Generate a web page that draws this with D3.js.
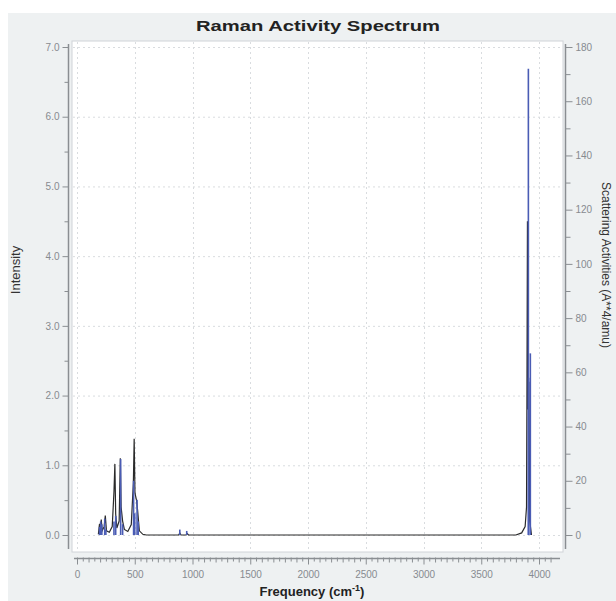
<!DOCTYPE html>
<html>
<head>
<meta charset="utf-8">
<script src="https://cdn.jsdelivr.net/npm/d3@7"></script>
<style>
  body { margin: 0; background: #ffffff; }
  svg { display: block; font-family: "Liberation Sans", Arial, sans-serif; }
</style>
</head>
<body>
<div id="chart"></div>
<script>
// Chart size
const w = 616;
const h = 601;

// Axis ticks
const xTicks = [0, 500, 1000, 1500, 2000, 2500, 3000, 3500, 4000];
const leftTicks = [0, 1, 2, 3, 4, 5, 6, 7];
const rightTicks = [0, 20, 40, 60, 80, 100, 120, 140, 160, 180];

// Broadened spectrum (frequency, intensity)
const lineFreq = [185, 195, 200, 210, 218, 235, 245, 255, 280, 305, 320, 328, 335, 345, 365, 375, 382, 395, 410, 440, 470, 488, 495, 502, 515, 525, 540, 570, 600, 880, 890, 900, 945, 955, 965, 3800, 3850, 3880, 3892, 3896, 3900, 3904, 3912, 3920, 3935];
const lineInt  = [0.01, 0.16, 0.04, 0.22, 0.06, 0.12, 0.28, 0.06, 0.04, 0.12, 0.62, 1.02, 0.3, 0.1, 0.2, 1.1, 0.4, 0.2, 0.08, 0.05, 0.15, 0.75, 1.38, 0.6, 0.5, 0.35, 0.06, 0.01, 0, 0, 0.03, 0, 0, 0.02, 0, 0, 0.03, 0.12, 0.4, 2.2, 4.5, 1.8, 2.2, 0.2, 0];

// Scattering activity sticks (frequency, activity)
const stickFreq = [195, 205, 215, 240, 250, 320, 335, 378, 395, 490, 500, 520, 530, 890, 950, 3910, 3908, 3925];
const stickAct  = [3, 5, 4, 6, 2, 5, 7, 28, 4, 20, 8, 13, 5, 2, 1.5, 58, 172, 67];

// Colors
const panelColor = "#eef1f2";
const axisColor = "#8a8e92";
const labelColor = "#878b90";
const gridColor = "#d9dcdf";
const lineColor = "#2a2a2a";
const stickColor = "#4a5cb4";

// Scales
const xScale = d3.scaleLinear().domain([0, 4000]).range([77, 539]);
const yLeft = d3.scaleLinear().domain([0, 7]).range([535, 47]);
const yRight = d3.scaleLinear().domain([0, 180]).range([535, 47]);

const svg = d3.select("#chart")
              .append("svg")
              .attr("width", w)
              .attr("height", h);

// Gray panel
svg.append("rect")
   .attr("x", 8).attr("y", 13)
   .attr("width", w - 8).attr("height", h - 13)
   .attr("fill", panelColor);

// Plot box
svg.append("rect")
   .attr("x", 72).attr("y", 41)
   .attr("width", 491).attr("height", 511)
   .attr("fill", "#ffffff")
   .attr("stroke", "#d0d4d8")
   .attr("stroke-width", 1);

// Grid lines
svg.append("g")
   .selectAll("line")
   .data(leftTicks)
   .enter()
   .append("line")
   .attr("x1", 73).attr("x2", 562)
   .attr("y1", d => yLeft(d) + 0.5).attr("y2", d => yLeft(d) + 0.5)
   .attr("stroke", gridColor)
   .attr("stroke-dasharray", "2,3");

svg.append("g")
   .selectAll("line")
   .data(xTicks)
   .enter()
   .append("line")
   .attr("x1", d => Math.round(xScale(d)) + 0.5).attr("x2", d => Math.round(xScale(d)) + 0.5)
   .attr("y1", 42).attr("y2", 551)
   .attr("stroke", gridColor)
   .attr("stroke-dasharray", "2,3");

// Spectrum line
const line = d3.line()
               .x((d, i) => xScale(lineFreq[i]))
               .y(d => yLeft(d));

svg.append("path")
   .datum(lineInt)
   .attr("d", line)
   .attr("fill", "none")
   .attr("stroke", lineColor)
   .attr("stroke-width", 1.2);

// Activity sticks
svg.append("g")
   .selectAll("line")
   .data(stickAct)
   .enter()
   .append("line")
   .attr("x1", (d, i) => xScale(stickFreq[i])).attr("x2", (d, i) => xScale(stickFreq[i]))
   .attr("y1", yRight(0)).attr("y2", d => yRight(d))
   .attr("stroke", stickColor)
   .attr("stroke-width", 1.6);

// Axes
const leftAxis = d3.axisLeft(yLeft)
                   .tickValues(d3.range(0, 7.01, 0.5))
                   .tickSize(0)
                   .tickFormat("");

const axisLeftG = svg.append("g")
   .attr("transform", "translate(68.5,0)")
   .call(leftAxis);
axisLeftG.select(".domain").remove();
axisLeftG.append("line")
   .attr("y1", 44).attr("y2", 549)
   .attr("stroke", axisColor).attr("stroke-width", 1.5);
axisLeftG.selectAll(".tick line")
   .attr("x2", d => Math.abs(d % 1) < 0.01 ? -6 : -4)
   .attr("stroke", axisColor);
axisLeftG.selectAll(".tick text")
   .attr("x", -9)
   .attr("dy", "0.32em")
   .attr("fill", labelColor)
   .style("font-size", "10px")
   .text(d => Math.abs(d % 1) < 0.01 ? d3.format(".1f")(d) : "");

const rightAxis = d3.axisRight(yRight)
                    .tickValues(d3.range(0, 181, 10))
                    .tickSize(0)
                    .tickFormat("");

const axisRightG = svg.append("g")
   .attr("transform", "translate(565.5,0)")
   .call(rightAxis);
axisRightG.select(".domain").remove();
axisRightG.append("line")
   .attr("y1", 44).attr("y2", 549)
   .attr("stroke", axisColor).attr("stroke-width", 1.5);
axisRightG.selectAll(".tick line")
   .attr("x2", d => d % 20 == 0 ? 7 : 5)
   .attr("stroke", axisColor);
axisRightG.selectAll(".tick text")
   .attr("x", 10)
   .attr("dy", "0.32em")
   .attr("fill", labelColor)
   .style("font-size", "10px")
   .text(d => d % 20 == 0 ? d : "");

const bottomAxis = d3.axisBottom(xScale)
                     .tickValues(d3.range(0, 4101, 50))
                     .tickSize(0)
                     .tickFormat("");

const axisBottomG = svg.append("g")
   .attr("transform", "translate(0,558.5)")
   .call(bottomAxis);
axisBottomG.select(".domain").remove();
axisBottomG.append("line")
   .attr("x1", 74).attr("x2", 560)
   .attr("stroke", axisColor).attr("stroke-width", 1.5);
axisBottomG.selectAll(".tick line")
   .attr("y1", -1)
   .attr("y2", d => d % 500 == 0 ? 6 : (d % 100 == 0 ? 4 : 3))
   .attr("stroke", axisColor);
axisBottomG.selectAll(".tick text")
   .attr("y", 12)
   .attr("dy", "0.71em")
   .attr("fill", labelColor)
   .style("font-size", "10px")
   .text(d => d % 500 == 0 ? d : "");

// Title
svg.append("text")
   .attr("x", 318).attr("y", 31)
   .attr("text-anchor", "middle")
   .attr("fill", "#222222")
   .style("font-size", "15px")
   .style("font-weight", "bold")
   .attr("textLength", 244)
   .attr("lengthAdjust", "spacingAndGlyphs")
   .text("Raman Activity Spectrum");

// Axis titles
svg.append("text")
   .attr("transform", "translate(20,270) rotate(-90)")
   .attr("text-anchor", "middle")
   .attr("fill", "#333333")
   .style("font-size", "13px")
   .text("Intensity");

svg.append("text")
   .attr("transform", "translate(602,265) rotate(90)")
   .attr("text-anchor", "middle")
   .attr("fill", "#333333")
   .style("font-size", "12px")
   .text("Scattering Activities (A**4/amu)");

const xTitle = svg.append("text")
   .attr("x", 312).attr("y", 596)
   .attr("text-anchor", "middle")
   .attr("fill", "#222222")
   .style("font-size", "13px")
   .style("font-weight", "bold");
xTitle.append("tspan").text("Frequency (cm");
xTitle.append("tspan").attr("dy", -5).style("font-size", "9px").text("-1");
xTitle.append("tspan").attr("dy", 5).text(")");
</script>
</body>
</html>
